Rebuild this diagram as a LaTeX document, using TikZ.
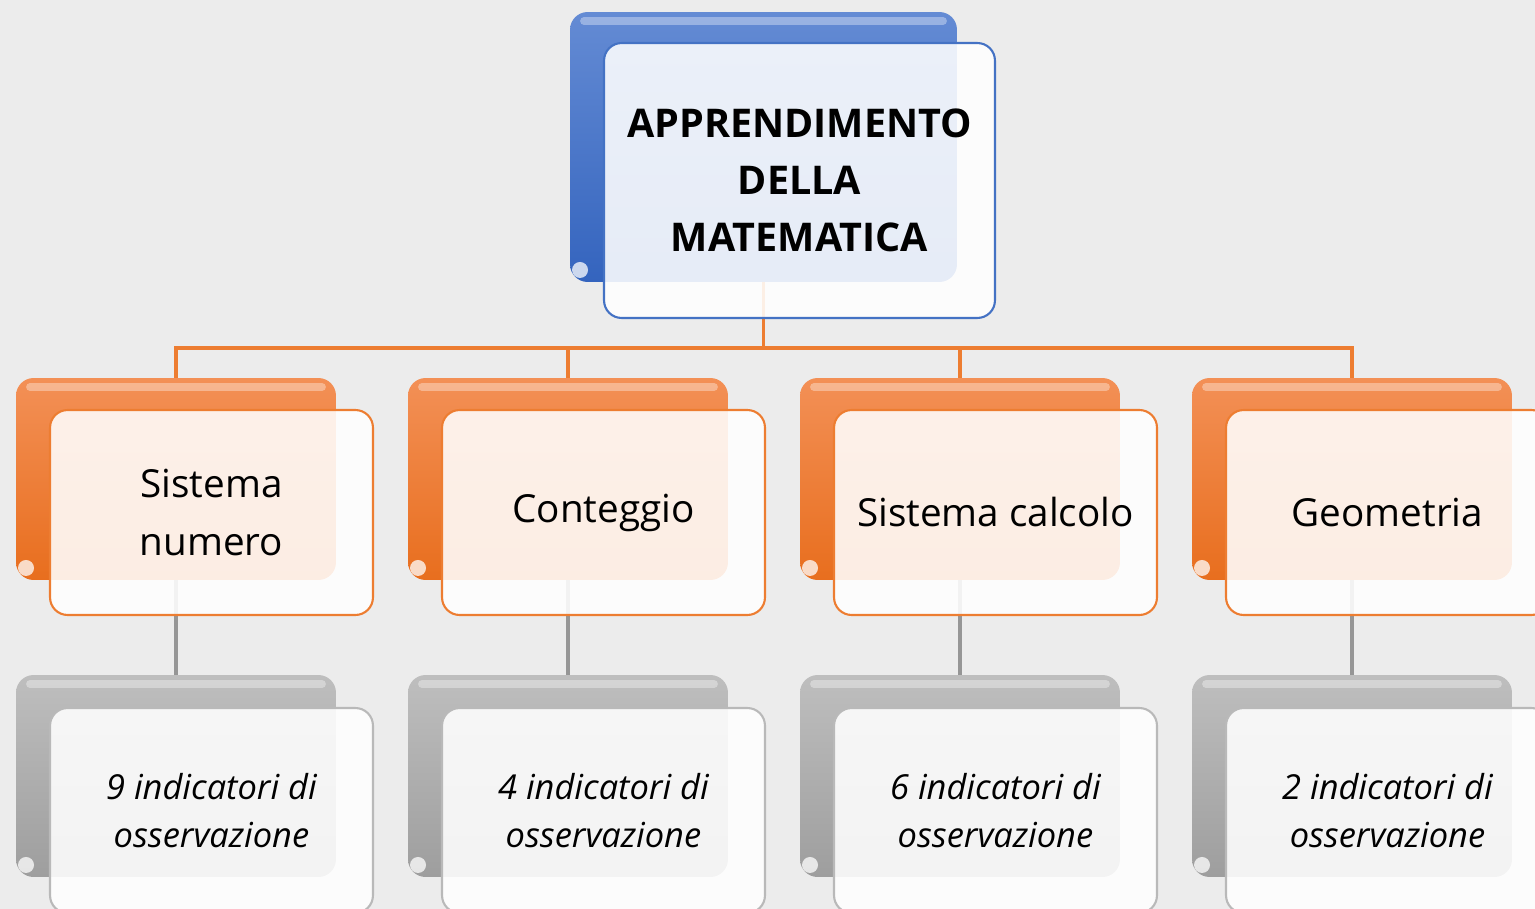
\documentclass[tikz,border=0pt]{standalone}
\usepackage{fontspec}
\setmainfont{Open Sans}
\usetikzlibrary{calc}
\pgfdeclarelayer{bg}
\pgfsetlayers{bg,main}
\definecolor{bgc}{RGB}{236,236,236}
\definecolor{blueT}{RGB}{100,139,212}
\definecolor{blueB}{RGB}{52,100,190}
\definecolor{blueL}{RGB}{68,114,196}
\definecolor{orT}{RGB}{243,144,86}
\definecolor{orB}{RGB}{232,110,30}
\definecolor{orL}{RGB}{237,125,49}
\definecolor{grT}{RGB}{190,190,190}
\definecolor{grB}{RGB}{158,158,158}
\definecolor{grL}{RGB}{185,185,185}
\definecolor{grLine}{RGB}{150,150,150}
\newcommand\ftop{\fontsize{22.5pt}{32.3pt}\selectfont\bfseries}
\newcommand\fmid{\fontsize{22pt}{32.9pt}\selectfont}
\newcommand\flow{\fontsize{19.6pt}{27.2pt}\selectfont\itshape}
\begin{document}
\begin{tikzpicture}[x=0.02cm,y=-0.02cm,
  gloss/.style={path picture={
    \draw[white,opacity=.35,line width=4.5pt,line cap=round]
      ($(path picture bounding box.north west)+(14,9)$) --
      ($(path picture bounding box.north east)+(-14,9)$);
    \fill[white,opacity=.75]
      ($(path picture bounding box.south west)+(10,-12)$) circle (8);
  }},
  backbox/.style={rectangle, rounded corners=10pt, inner sep=0pt, gloss},
  frontbox/.style={rectangle, rounded corners=10pt, inner sep=0pt,
    fill=white, fill opacity=.88, text opacity=1, line width=1.2pt, align=center},
  bluebox/.style={backbox, top color=blueT, bottom color=blueB,
    minimum width=7.74cm, minimum height=5.4cm},
  bluefront/.style={frontbox, draw=blueL, minimum width=7.82cm, minimum height=5.5cm, font=\ftop},
  orbox/.style={backbox, top color=orT, bottom color=orB,
    minimum width=6.4cm, minimum height=4.04cm},
  orfront/.style={frontbox, draw=orL, minimum width=6.46cm, minimum height=4.1cm, font=\fmid},
  grbox/.style={backbox, top color=grT, bottom color=grB,
    minimum width=6.4cm, minimum height=4.04cm},
  grfront/.style={frontbox, draw=grL, minimum width=6.46cm, minimum height=4.1cm, font=\flow},
  oline/.style={draw=orL, line width=1.9pt},
  gline/.style={draw=grLine, line width=1.9pt}
]
\useasboundingbox (0,0) rectangle (1535,909);
\clip (0,0) rectangle (1535,909);

\node[bluebox] (tb) at (763.5,147) {};
\node[bluefront] (tf) at (799.5,180.5) {APPRENDIMENTO\\DELLA\\MATEMATICA};

\foreach \i/\ta/\tb in {0/{Sistema\\numero}/9, 1/Conteggio/4, 2/Sistema calcolo/6, 3/Geometria/2}{
  \node[orbox] (ob\i) at ({176+392*\i},479) {};
  \node[orfront] (of\i) at ({211.5+392*\i},512.5) {\ta};
  \node[grbox] (gb\i) at ({176+392*\i},776) {};
  \node[grfront] (gf\i) at ({211.5+392*\i},810.5) {\tb\ indicatori di\\osservazione};
}

\begin{pgfonlayer}{bg}
\fill[bgc] (0,0) rectangle (1535,909);
\coordinate (bus) at (0,348);
\foreach \i in {0,...,3}{
  \draw[oline] (tb.center) -- (tb.center |- bus) -| (ob\i.center);
  \draw[gline] (ob\i.center) -- (gb\i.center);
}
\end{pgfonlayer}
\end{tikzpicture}
\end{document}
